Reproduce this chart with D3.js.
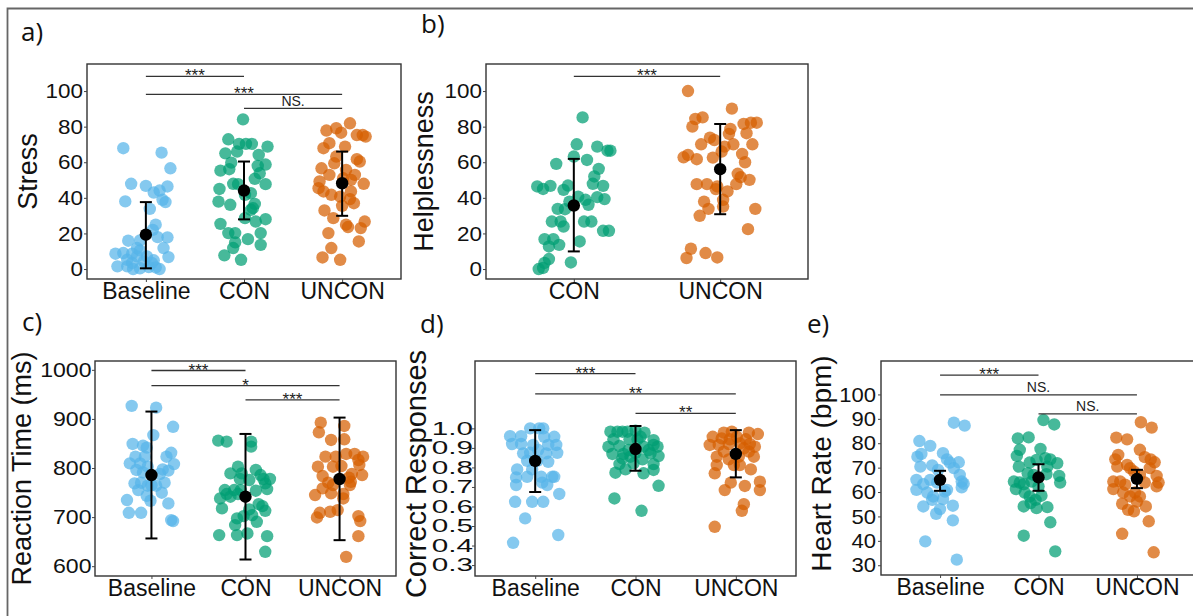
<!DOCTYPE html>
<html>
<head>
<meta charset="utf-8">
<script src="https://cdn.jsdelivr.net/npm/d3@7"></script>
<style>
  body { margin: 0; background: #fff; }
  svg { display: block; font-family: "Liberation Sans", Arial, sans-serif; }
</style>
</head>
<body>
<div id="chart"></div>
<script>
// groups + colours
const groups = ['Baseline', 'CON', 'UNCON'];
const groupColor = {Baseline: '#56B4E9', CON: '#009E73', UNCON: '#D55E00'};

// points are [jitter (category units), value]
// a) Stress
const stressBaseline = [[-0.23,67.9],[0.16,65.4],[0.25,56.6],[-0.15,47.9],[0,46.7],[0.22,46.4],[0.14,44.1],[0.08,43],[-0.21,38],[0.17,38.9],[0.2,37.6],[0.04,33.8],[0.1,24.9],[0.07,22],[0.22,17.8],[0.12,17.9],[-0.18,15.9],[-0.06,16.1],[0.18,11.8],[-0.23,9],[-0.14,8.6],[-0.31,8.6],[-0.06,10.5],[-0.09,7.1],[0.01,7.1],[0.23,6.7],[-0.19,5.2],[-0.02,4.3],[0.08,4.9],[-0.29,1.5],[-0.19,1.5],[-0.13,0],[-0.06,0.4],[0.03,1.1],[0.1,0.9],[0.14,0],[0.06,3.4],[-0.14,3.4],[-0.09,11.8]];
const stressCon = [[-0.01,84.1],[-0.16,72.9],[-0.05,70.3],[0.02,70.3],[0.08,70.3],[0.24,68.8],[-0.07,66],[-0.19,65],[0.15,64.1],[-0.13,59.8],[-0.24,55.3],[-0.15,56.1],[0.22,58.7],[0.14,57.9],[0.16,53.8],[0.11,50.7],[0.22,47.7],[-0.11,47.9],[-0.06,47.7],[-0.25,45],[0.07,42.6],[0.01,41.7],[-0.26,37.9],[-0.14,36.1],[0.11,36.6],[0.09,34.2],[0.07,33.3],[0.01,28.6],[0.22,28],[0.12,26.7],[-0.24,25.4],[-0.16,20.2],[-0.09,20.2],[0.17,20.2],[0.04,16.8],[-0.09,15],[0.17,13.6],[-0.11,11.8],[-0.2,7.7],[-0.03,5.2]];
const stressUncon = [[0.08,81.9],[-0.16,77.8],[-0.06,79.1],[-0.01,76.6],[0.15,75.3],[0.24,74.4],[0.21,75.3],[-0.13,70.7],[-0.19,67.9],[0.03,68.8],[-0.06,63.2],[-0.08,59.4],[0.15,61.7],[0.18,60.4],[0.04,55.7],[-0.21,56.6],[-0.13,52.9],[0.13,52.9],[-0.23,49.2],[-0.24,45.4],[0.01,51],[0.09,50.1],[0.22,47.9],[-0.19,43.6],[-0.11,41.7],[0.09,43.6],[-0.02,40.7],[0.08,39.3],[0.12,37],[0,35.5],[-0.18,32.9],[-0.09,28.6],[0.04,24.9],[0.06,23.6],[0.19,23],[0.23,26.7],[-0.14,20.2],[0.17,15.5],[-0.11,11.8],[-0.2,6.5],[-0.02,5.2]];
const stressSummary = [[19.3,0.4,37.6],[44.1,27.9,60.4],[48.2,29.9,66]]; // mean, lower, upper
const stressTests = [['Baseline','CON','***',108.3],['Baseline','UNCON','***',98.1],['CON','UNCON','NS.',90.3]];
const stressTicks = [0,20,40,60,80,100];

// b) Helplessness
const helpCon = [[0.06,85.2],[0.02,70.1],[0.16,68.8],[0.23,66.5],[0.25,66.5],[0,63.2],[0.09,61.3],[-0.12,59.1],[0.17,56.3],[0.14,52],[0.13,47.9],[0.2,46.7],[-0.25,46.4],[-0.21,45],[-0.16,46.7],[-0.04,46.9],[-0.07,44.5],[0.03,40.7],[0.16,40.4],[0.21,39.3],[0.08,38.9],[-0.03,37.9],[0.1,36.1],[-0.11,33.8],[-0.06,33.6],[-0.15,26.7],[-0.09,26.7],[0.07,26.7],[0.12,26.7],[-0.07,23.9],[0.2,21.5],[0.24,21.5],[-0.2,16.8],[-0.14,16.8],[-0.17,12.7],[-0.1,13.6],[0.04,15.5],[-0.17,5.6],[-0.02,3.7],[-0.24,0],[-0.21,0.6],[-0.2,3.4]];
const helpUncon = [[-0.22,100],[0.08,90.1],[-0.17,84.3],[-0.12,85.2],[-0.19,80],[0.16,81.5],[0.21,82.2],[0.25,82.2],[0.07,78.7],[0.06,75.9],[0.18,76.3],[-0.07,73.8],[-0.04,72.5],[-0.13,70.1],[0.09,70.1],[0.03,68.8],[0.22,70.1],[0.01,66],[-0.25,62.8],[-0.22,64.1],[-0.16,61.7],[-0.05,62.6],[0.15,64.7],[0.17,60],[0.12,53.5],[0.14,51.6],[0.2,50.1],[-0.16,47.7],[-0.09,47.7],[0.11,47.7],[-0.02,46.4],[-0.03,44.9],[0.05,43.6],[0.02,38.9],[-0.11,37.9],[-0.08,33.8],[0.02,35.1],[-0.14,29.9],[0.24,33.8],[0.19,22.4],[-0.2,11.4],[-0.23,6.2],[-0.1,9],[-0.02,6.5]];
const helpSummary = [[35.7,9.9,61.9],[56.1,30.8,81.5]];
const helpTests = [['CON','UNCON','***',108.3]];

// c) Reaction time
const rtBaseline = [[-0.21,926.5],[0.05,923],[0.23,884],[-0.2,849],[-0.09,845.6],[0.02,867],[-0.05,841.5],[0.21,831],[0.16,823],[-0.17,823],[-0.23,809.5],[0.24,808],[-0.12,809.5],[-0.04,802.7],[-0.16,796],[0.12,797],[0.18,794.6],[-0.09,791],[0.09,787.8],[-0.18,768.7],[-0.11,770],[0.14,770],[0.05,764],[-0.04,764],[-0.14,755],[0.11,749.7],[-0.05,743.5],[0,765],[-0.26,734.7],[-0.01,733.3],[0.18,727.9],[-0.24,708.8],[-0.11,708.8],[0.21,693.9],[0.23,691.8],[-0.07,823]];
const rtCon = [[-0.29,855.8],[-0.2,853.7],[0.06,853.7],[0.06,843.5],[-0.08,802.7],[-0.16,789],[0.11,796],[0.16,785.7],[-0.06,777.6],[0.21,768.7],[0.26,777.6],[0.19,777.6],[0.04,775.5],[-0.22,755.1],[-0.12,755.1],[-0.05,755],[0.23,757],[-0.2,747],[-0.16,741.5],[-0.08,747],[0.11,753.7],[0.14,726.5],[-0.27,738],[0.18,722.4],[-0.25,717.7],[0.21,712.9],[0.04,715.6],[-0.02,702],[0.07,704],[-0.09,697.3],[0.12,690.5],[-0.11,683.7],[-0.28,663.3],[-0.09,663.3],[0.23,661.2],[0.21,629.3],[0.02,666.7],[-0.04,789]];
const rtUncon = [[-0.2,892.5],[0.05,885.7],[-0.22,872.8],[-0.09,857.1],[0.05,858.5],[-0.15,823.1],[-0.04,823.1],[0.07,828.6],[0.16,828.6],[0.25,823.1],[0.2,816.3],[0.21,806],[-0.23,802.7],[-0.07,802.7],[0.02,804],[0.13,787.8],[0.24,785.7],[0.1,780.3],[-0.18,783.7],[-0.12,770],[-0.07,765.3],[-0.18,758.5],[0.11,765.3],[-0.26,744.9],[-0.09,748.3],[0.04,747],[0.04,738],[0.12,772],[-0.02,714.3],[-0.1,710.9],[-0.21,708.8],[-0.24,699.3],[0.2,702],[0.22,691.8],[0.2,661.2],[0.07,619]];
const rtSummary = [[785.7,656.5,915],[741.5,613.6,869.4],[777.6,653,902.7]];
const rtTests = [['Baseline','CON','***',998.6],['Baseline','UNCON','*',968],['CON','UNCON','***',938.8]];
const rtTicks = [600,700,800,900,1000];

// d) Correct responses
const correctBaseline = [[-0.05,1.0],[0.04,1.0],[0.08,1.0],[-0.25,0.96],[-0.14,0.96],[0.09,0.957],[0.19,0.957],[-0.23,0.92],[-0.14,0.92],[-0.02,0.915],[0.13,0.915],[0.21,0.915],[-0.12,0.872],[-0.05,0.875],[0.11,0.872],[0.22,0.875],[-0.08,0.834],[0.02,0.834],[0.13,0.829],[-0.18,0.79],[-0.19,0.749],[-0.08,0.752],[0.06,0.752],[0.17,0.752],[0.19,0.752],[0.07,0.722],[-0.19,0.71],[0.12,0.71],[0.24,0.664],[-0.2,0.624],[-0.03,0.624],[0.08,0.624],[-0.1,0.539],[0.23,0.454],[-0.22,0.414],[0.03,0.889],[-0.03,0.79]];
const correctCon = [[-0.25,0.983],[-0.18,0.983],[-0.13,0.983],[-0.08,0.983],[0,0.988],[0.09,0.978],[-0.22,0.944],[-0.06,0.944],[0.02,0.944],[0.18,0.94],[-0.16,0.91],[0.08,0.906],[0.18,0.915],[0.22,0.906],[-0.27,0.906],[-0.07,0.889],[0,0.875],[-0.12,0.869],[0.13,0.889],[0.15,0.872],[0.23,0.858],[-0.13,0.846],[0.07,0.841],[-0.23,0.869],[-0.16,0.817],[-0.02,0.821],[0.18,0.817],[-0.1,0.79],[0.18,0.787],[-0.2,0.773],[0.08,0.77],[0.23,0.706],[-0.21,0.641],[0.06,0.578],[0.05,0.957],[-0.05,0.855]];
const correctUncon = [[-0.12,0.978],[-0.04,0.983],[0.13,0.978],[0.22,0.971],[-0.23,0.957],[-0.14,0.949],[0.01,0.957],[0.1,0.944],[-0.26,0.915],[-0.17,0.915],[-0.07,0.92],[0.14,0.92],[0.19,0.906],[-0.12,0.881],[0.08,0.898],[0.13,0.881],[0.18,0.855],[0.03,0.855],[-0.19,0.855],[-0.07,0.841],[-0.19,0.812],[-0.02,0.812],[0.04,0.812],[0.15,0.79],[-0.21,0.77],[-0.05,0.722],[0.24,0.727],[0.09,0.705],[-0.11,0.684],[0.24,0.684],[0.08,0.612],[0.06,0.578],[-0.21,0.496],[-0.06,0.944],[0.04,0.923]];
const correctSummary = [[0.833,0.674,0.991],[0.894,0.783,1.012],[0.869,0.749,0.991]];
const correctTests = [['Baseline','CON','***',1.28],['Baseline','UNCON','**',1.177],['CON','UNCON','**',1.077]];
const correctTicks = [0.3,0.4,0.5,0.6,0.7,0.8,0.9,1.0];

// e) Heart rate
const hrBaseline = [[0.14,88.4],[0.25,87.2],[-0.21,80.9],[-0.1,78.9],[-0.23,74.5],[-0.19,75.6],[0.03,75.9],[0.07,73.4],[0.1,72.1],[0.19,72.2],[-0.2,70.4],[-0.08,70.9],[0.14,69.8],[0.2,67],[-0.24,65],[-0.1,65],[0.22,64.3],[0.24,63.4],[0.22,61.9],[-0.17,63.2],[-0.03,63.9],[-0.24,60.9],[-0.13,59.8],[-0.07,58.2],[0.05,60.2],[0.03,57.1],[0.07,60.9],[-0.08,56.8],[-0.17,54.1],[0.13,54.4],[0,53],[-0.04,51.1],[0.13,48.4],[-0.15,39.8],[0.17,32.3],[-0.02,69.1]];
const hrCon = [[0.05,89.5],[0.16,87.7],[-0.21,82],[-0.1,82.4],[-0.19,77.3],[0.02,77.7],[-0.22,74.8],[-0.09,72.1],[-0.02,73.2],[0.07,73.9],[0.12,73.4],[0.19,71.8],[-0.2,70.4],[0.09,70.4],[-0.11,67.7],[-0.05,67],[0.08,67.3],[0.21,66.6],[0.22,63.9],[-0.25,64.3],[-0.19,63.9],[-0.15,63.2],[-0.07,64.3],[-0.23,61.2],[-0.14,59.8],[-0.09,58.2],[0.03,58.5],[-0.03,56.8],[-0.15,54.1],[-0.02,53.4],[0.09,53.8],[-0.08,55.5],[0.12,47.6],[-0.15,42.1],[0.17,35.7],[0,62.3]];
const hrUncon = [[0.04,88.6],[0.15,86.4],[-0.21,82.3],[-0.1,81.6],[-0.19,75.2],[0.03,77.3],[-0.22,73.4],[0.08,74.3],[0.14,73.4],[0.18,72.2],[-0.1,71.1],[-0.07,69.8],[-0.2,70.4],[0.13,69.8],[-0.03,68.4],[0.2,66.6],[0.03,67],[0.22,63.9],[0.2,62.3],[-0.24,64.3],[-0.17,64.3],[-0.12,63],[0.08,63.9],[-0.24,61.2],[-0.14,59.8],[-0.07,58.2],[0.03,58.2],[-0.02,59.8],[-0.15,55.2],[-0.09,52.7],[-0.03,52.1],[0.09,54.1],[0.12,48],[-0.15,42.9],[0.17,35.3],[0,56.1]];
const hrSummary = [[65,60.5,68.7],[66,60.5,71.4],[65.4,61.6,69.1]];
const hrTests = [['Baseline','CON','***',107.9],['Baseline','UNCON','NS.',99.8],['CON','UNCON','NS.',92]];
const hrTicks = [30,40,50,60,70,80,90,100];

// panel layout
const panels = [
  {tag: 'a)', tagAt: [21, 41], title: 'Stress', titleAt: [37, 171.5], titleSize: 27,
   cats: groups, points: [stressBaseline, stressCon, stressUncon], summary: stressSummary,
   tests: stressTests, ticks: stressTicks, fmt: d3.format('d'), domain: [-5.6, 115.2],
   box: [87, 401, 64, 279], tickFont: 21, stretch: 1.07, gap: 4},
  {tag: 'b)', tagAt: [421, 33], title: 'Helplessness', titleAt: [433, 171.5], titleSize: 27,
   cats: ['CON', 'UNCON'], points: [helpCon, helpUncon], summary: helpSummary,
   tests: helpTests, ticks: stressTicks, fmt: d3.format('d'), domain: [-5.6, 115.2],
   box: [486, 808, 64, 279], tickFont: 21, stretch: 1.07, gap: 4},
  {tag: 'c)', tagAt: [22, 331], title: 'Reaction Time (ms)', titleAt: [31, 468.5], titleSize: 27,
   cats: groups, points: [rtBaseline, rtCon, rtUncon], summary: rtSummary,
   tests: rtTests, ticks: rtTicks, fmt: d3.format('d'), domain: [580, 1018],
   box: [95, 396, 361, 576], tickFont: 21, stretch: 1.1, gap: 3.5},
  {tag: 'd)', tagAt: [420, 333], title: 'Correct Responses', titleAt: [426, 474], titleSize: 29,
   cats: groups, points: [correctBaseline, correctCon, correctUncon], summary: correctSummary,
   tests: correctTests, ticks: correctTicks, fmt: d3.format('.1f'), domain: [0.244, 1.345],
   box: [475, 796, 361, 576], tickFont: 18, stretch: 1.65, gap: 2},
  {tag: 'e)', tagAt: [807, 333], title: 'Heart Rate (bpm)', titleAt: [831, 463.5], titleSize: 28,
   cats: groups, points: [hrBaseline, hrCon, hrUncon], summary: hrSummary,
   tests: hrTests, ticks: hrTicks, fmt: d3.format('d'), domain: [26, 113.7],
   box: [881, 1196, 361, 575], tickFont: 21, stretch: 1.05, gap: 5}
];

const width = 1193, height = 616;

const svg = d3.select('#chart').append('svg')
    .attr('width', width)
    .attr('height', height);

svg.append('rect').attr('width', width).attr('height', height).attr('fill', '#fff');

// outer frame (only top + left visible)
svg.append('path')
    .attr('d', `M7.5,${height} V8.5 H${width}`)
    .attr('fill', 'none')
    .attr('stroke', '#666')
    .attr('stroke-width', 1.8);

function drawPanel(p) {
    const [x0, x1, y0, y1] = p.box;
    const n = p.cats.length;
    const x = d3.scaleLinear().domain([0.4, n + 0.6]).range([x0, x1]);
    const y = d3.scaleLinear().domain(p.domain).range([y1, y0]);
    const g = svg.append('g');

    // jittered points
    p.cats.forEach((c, i) => {
        g.append('g').selectAll('circle')
            .data(p.points[i])
            .join('circle')
            .attr('cx', d => x(i + 1 + d[0]))
            .attr('cy', d => y(d[1]))
            .attr('r', 6.2)
            .attr('fill', groupColor[c])
            .attr('fill-opacity', 0.72);
    });

    // mean +- error
    p.cats.forEach((c, i) => {
        const [m, lo, hi] = p.summary[i];
        const cx = x(i + 1);
        const eb = g.append('g').attr('stroke', '#000').attr('stroke-width', 2);
        eb.append('line').attr('x1', cx).attr('x2', cx).attr('y1', y(lo)).attr('y2', y(hi));
        eb.append('line').attr('x1', cx - 6).attr('x2', cx + 6).attr('y1', y(lo)).attr('y2', y(lo));
        eb.append('line').attr('x1', cx - 6).attr('x2', cx + 6).attr('y1', y(hi)).attr('y2', y(hi));
        g.append('circle').attr('cx', cx).attr('cy', y(m)).attr('r', 6.2).attr('fill', '#000');
    });

    // significance brackets
    p.tests.forEach(([a, b, lab, lvl]) => {
        const xa = x(p.cats.indexOf(a) + 1), xb = x(p.cats.indexOf(b) + 1);
        g.append('line')
            .attr('x1', xa).attr('x2', xb)
            .attr('y1', y(lvl)).attr('y2', y(lvl))
            .attr('stroke', '#333').attr('stroke-width', 1.3);
        const star = lab.startsWith('*');
        g.append('text')
            .attr('x', (xa + xb) / 2)
            .attr('y', star ? y(lvl) + 5 : y(lvl) - 2.5)
            .attr('text-anchor', 'middle')
            .attr('font-size', star ? 17 : 14)
            .attr('fill', '#222')
            .text(lab);
    });

    // panel border
    g.append('rect')
        .attr('x', x0).attr('y', y0)
        .attr('width', x1 - x0).attr('height', y1 - y0)
        .attr('fill', 'none').attr('stroke', '#333').attr('stroke-width', 1.4);

    // y axis
    const ya = g.append('g')
        .attr('transform', `translate(${x0},0)`)
        .call(d3.axisLeft(y).tickValues(p.ticks).tickFormat(p.fmt).tickSize(3).tickPadding(0));
    ya.select('.domain').remove();
    ya.selectAll('.tick line').attr('stroke', '#444');
    ya.selectAll('.tick text')
        .attr('font-size', p.tickFont)
        .attr('fill', '#111')
        .attr('x', -p.gap / p.stretch)
        .attr('transform', `scale(${p.stretch},1)`)
        .attr('font-family', '"Liberation Sans", Arial, sans-serif');

    // x axis
    const xa = g.append('g')
        .attr('transform', `translate(0,${y1})`)
        .call(d3.axisBottom(x).tickValues(d3.range(1, n + 1)).tickFormat(i => p.cats[i - 1]).tickSize(3).tickPadding(1));
    xa.select('.domain').remove();
    xa.selectAll('.tick line').attr('stroke', '#444');
    xa.selectAll('.tick text')
        .attr('font-size', 23)
        .attr('fill', '#111')
        .attr('font-family', '"Liberation Sans", Arial, sans-serif');

    // y title
    svg.append('text')
        .attr('transform', `translate(${p.titleAt[0]},${p.titleAt[1]}) rotate(-90)`)
        .attr('text-anchor', 'middle')
        .attr('font-size', p.titleSize)
        .attr('fill', '#111')
        .text(p.title);

    // panel tag
    svg.append('text')
        .attr('x', p.tagAt[0]).attr('y', p.tagAt[1])
        .attr('font-family', '"Open Sans", Lato, sans-serif')
        .attr('font-size', 26)
        .attr('fill', '#111')
        .text(p.tag);
}

panels.forEach(drawPanel);
</script>
</body>
</html>
